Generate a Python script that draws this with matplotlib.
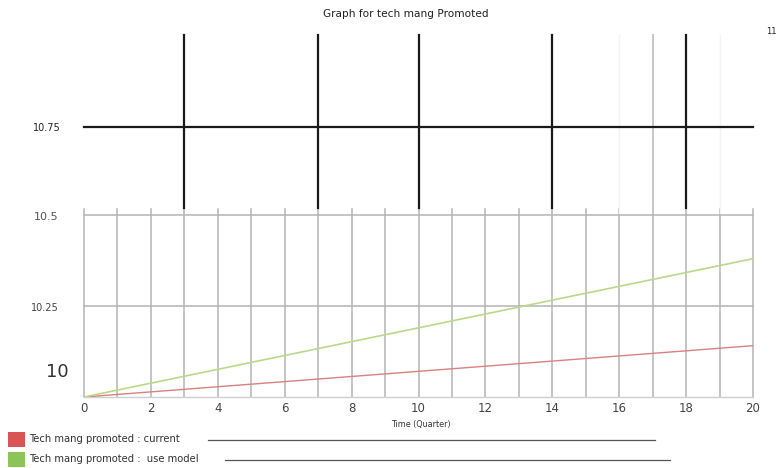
import matplotlib
matplotlib.use("Agg")
import matplotlib.pyplot as plt
from matplotlib.patches import Rectangle

# ---- data ----
time_q = [0, 20]
current = [10.0, 10.141]
use_model = [10.0, 10.38]
x_ticks = [0, 2, 4, 6, 8, 10, 12, 14, 16, 18, 20]
grid_x = list(range(0, 21))
black_x = [3, 7, 10, 14, 18]
series_labels = ["Tech mang promoted : current", "Tech mang promoted :  use model"]
title = "Graph for tech mang Promoted"
xlabel = "Time (Quarter)"

W, H = 781, 468
fig = plt.figure(figsize=(W / 100, H / 100), dpi=100)
L, R, T, B = 84, 753, 215, 397
ax = fig.add_axes([L / W, 1 - B / H, (R - L) / W, (B - T) / H])
ax.set_xlim(0, 20)
ax.set_ylim(10.0, 10.5)
for s in ax.spines.values():
    s.set_visible(False)
ax.set_xticks([])
ax.set_yticks([])

def ypix(p):
    # pixel row -> data y
    return 10.0 + (B - p) / (B - T) * 0.5

grid_c = "#b4b4b4"
# vertical grid lines (with small tick above top)
for gx in grid_x:
    ax.plot([gx, gx], [10.0, ypix(209)], color=grid_c, lw=1.1, clip_on=False, zorder=1)
# horizontal grid lines
for gy in [10.5, 10.25]:
    ax.plot([0, 20], [gy, gy], color=grid_c, lw=1.1, clip_on=False, zorder=1)
ax.plot([0, 20], [10.0, 10.0], color="#d0d0d0", lw=1.0, clip_on=False, zorder=1)

# upper region: light vertical at 17, black lines
ax.plot([17, 17], [ypix(35), ypix(213)], color="#c8c8c8", lw=1.4, clip_on=False, zorder=1)
for fx in [16, 19]:
    ax.plot([fx, fx], [ypix(35), ypix(213)], color="#f4f4f4", lw=1.0, clip_on=False, zorder=1)
for bx in black_x:
    ax.plot([bx, bx], [ypix(35), ypix(208)], color="#1a1a1a", lw=1.6, clip_on=False, zorder=2)
ax.plot([0, 20], [ypix(127), ypix(127)], color="#1a1a1a", lw=1.6, clip_on=False, zorder=2)

# series lines
ax.plot(time_q, current, color="#d98080", lw=1.0, zorder=3)
ax.plot(time_q, use_model, color="#bcd88a", lw=1.2, zorder=3)

# x tick labels
for xt in x_ticks:
    fig.text((L + xt * (R - L) / 20) / W, 1 - 408 / H, str(xt), ha="center", va="center",
             fontsize=8.5, color="#444444")
fig.text(421 / W, 1 - 424 / H, xlabel, ha="center", va="center", fontsize=5.8, color="#333333")

# y labels
fig.text(46 / W, 1 - 217 / H, "10.5", ha="center", va="center", fontsize=8, color="#555555")
fig.text(45 / W, 1 - 308 / H, "10.25", ha="center", va="center", fontsize=7, color="#444444")
fig.text(57 / W, 1 - 372 / H, "10", ha="center", va="center", fontsize=13, color="#333333")
fig.text(47 / W, 1 - 128 / H, "10.75", ha="center", va="center", fontsize=7, color="#222222")
fig.text(771 / W, 1 - 32 / H, "11", ha="center", va="center", fontsize=6, color="#222222")

# title
fig.text(406 / W, 1 - 14 / H, title, ha="center", va="center", fontsize=7.6, color="#222222")

# legend
leg_cols = ["#d95555", "#8cc45a"]
leg_y = [439, 459]
line_spans = [(208, 655), (225, 670)]
for lab, c, yy, (x0, x1) in zip(series_labels, leg_cols, leg_y, line_spans):
    fig.patches.append(Rectangle((8 / W, 1 - (yy + 8) / H), 17 / W, 15 / H,
                                 transform=fig.transFigure, facecolor=c, edgecolor="none"))
    fig.text(29 / W, 1 - yy / H, lab, ha="left", va="center", fontsize=7.2, color="#333333")
    fig.add_artist(plt.Line2D([x0 / W, x1 / W], [1 - (yy + 1) / H, 1 - (yy + 1) / H],
                              transform=fig.transFigure, color="#555555", lw=0.9))

fig.savefig("out.png", dpi=100)
